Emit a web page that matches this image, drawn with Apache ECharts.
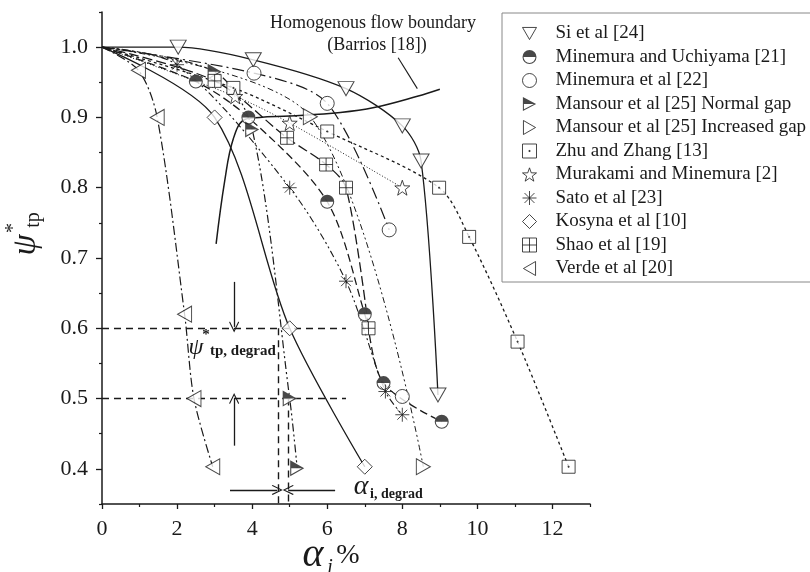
<!DOCTYPE html>
<html><head><meta charset="utf-8">
<script src="https://cdn.jsdelivr.net/npm/echarts@6/dist/echarts.min.js"></script>
<style>html,body{margin:0;padding:0;background:#fff}#c{width:810px;height:572px}</style>
</head><body><div id="c"></div>
<script>
// ---- tick labels ----
const xMajorTicks = [0, 2, 4, 6, 8, 10, 12];
const xMinorTicks = [1, 3, 5, 7, 9, 11, 13];
const yMajorTicks = [0.4, 0.5, 0.6, 0.7, 0.8, 0.9, 1.0];
const yMinorTicks = [0.35, 0.45, 0.55, 0.65, 0.75, 0.85, 0.95, 1.05];

// ---- series (alpha_i %, psi*_tp) ----
const seriesNames = ['Si et al [24]', 'Minemura and Uchiyama [21]', 'Minemura et al [22]',
  'Mansour et al [25] Normal gap', 'Mansour et al [25] Increased gap', 'Zhu and Zhang [13]',
  'Murakami and Minemura [2]', 'Sato et al [23]', 'Kosyna et al [10]', 'Shao et al [19]', 'Verde et al [20]'];
const origin = [0, 1.0];
const siPts = [[2.03, 1.0], [4.03, 0.982], [6.5, 0.941], [8.0, 0.888], [8.5, 0.838], [8.95, 0.505]];
const minUchPts = [[2.5, 0.951], [3.9, 0.9], [6.0, 0.78], [7.0, 0.62], [7.5, 0.522], [9.05, 0.467]];
const minEtAlPts = [[4.05, 0.963], [6.0, 0.92], [7.65, 0.74], [8.0, 0.503]];
const mansNormalPts = [[3.0, 0.965], [4.0, 0.883], [5.0, 0.5], [5.2, 0.401]];
const mansIncrPts = [[5.55, 0.901], [8.56, 0.403]];
const zhuPts = [[3.5, 0.942], [6.0, 0.88], [8.98, 0.8], [9.78, 0.73], [11.07, 0.581], [12.43, 0.403]];
const murakamiPts = [[3.55, 0.93], [5.0, 0.892], [8.0, 0.8]];
const satoPts = [[2.0, 0.975], [5.0, 0.8], [6.5, 0.667], [7.55, 0.51], [8.0, 0.477]];
const kosynaPts = [[3.0, 0.9], [5.0, 0.6], [7.0, 0.403]];
const shaoPts = [[3.0, 0.952], [4.93, 0.871], [5.97, 0.833], [6.5, 0.8], [7.1, 0.6]];
const verdePts = [[0.97, 0.967], [1.47, 0.9], [2.2, 0.62], [2.45, 0.5], [2.95, 0.403]];
// homogenous flow boundary (Barrios)
const boundaryPts = [[3.04, 0.72], [3.27, 0.81], [3.5, 0.87], [3.8, 0.897], [4.2, 0.9], [5.0, 0.902],
  [6.35, 0.907], [7.25, 0.914], [8.4, 0.93], [9.0, 0.94]];
// reference lines and arrows
const hRefY = [0.6, 0.5];
const hRefXEnd = 6.5;
const vRef = [[4.7, 0.6], [4.95, 0.5]];
const arrowDown = [[3.52, 0.666], [3.52, 0.602]];
const arrowUp = [[3.52, 0.433], [3.52, 0.5]];
const arrowRight = [[3.41, 0.37], [4.67, 0.37]];
const arrowLeft = [[6.21, 0.37], [4.96, 0.37]];
const pointer = [[7.89, 0.985], [8.4, 0.941]];

// ---- symbols ----
const S = {
  down: 'path://M-10,-8.66L10,-8.66L0,8.66Z',
  right: 'path://M-8.66,-10L8.66,0L-8.66,10Z',
  left: 'path://M8.66,-10L8.66,10L-8.66,0Z',
  halfCircle: 'path://M0,-10A10,10 0 1,1 0,10A10,10 0 1,1 0,-10Z M0,-8.5A8.5,8.5 0 1,0 0,8.5A8.5,8.5 0 1,0 0,-8.5Z M-10,0A10,10 0 0,1 10,0Z',
  halfRight: 'path://M-8,-9L9,0L-8,9Z M-6.7,-6.84L-6.7,6.84L6.22,0Z M-8,-9L9,0L-8,0Z',
  squareDot: 'path://M-10,-10H10V10H-10Z M-0.8,-0.8H0.8V0.8H-0.8Z',
  squarePlus: 'path://M-10,-10H10V10H-10Z M0,-10V10 M-10,0H10',
  star: 'path://M0,-10L2.35,-3.24L9.51,-3.09L3.8,1.24L5.88,8.09L0,4L-5.88,8.09L-3.8,1.24L-9.51,-3.09L-2.35,-3.24Z',
  aster: 'path://M0,-10V10M-10,0H10M-7.07,-7.07L7.07,7.07M-7.07,7.07L7.07,-7.07'
};

const ptsList = [siPts, minUchPts, minEtAlPts, mansNormalPts, mansIncrPts, zhuPts, murakamiPts, satoPts, kosynaPts, shaoPts, verdePts];
const linePts = [siPts, minUchPts, minEtAlPts.slice(0, 3), mansNormalPts, mansIncrPts, zhuPts, murakamiPts, satoPts, kosynaPts, shaoPts, verdePts];
const symbols = [S.down, S.halfCircle, 'circle', S.halfRight, S.right, S.squareDot, S.star, S.aster, 'diamond', S.squarePlus, S.left];
const sizes = [[16, 14], 14, 14, [14, 16], [14, 16], 13, 15, 14, 15, 13, [14, 16]];
const half = [false, true, false, true, false, false, false, false, false, false, false];
const dashes = ['solid', [8, 4], [12, 4, 2, 4], [8, 3, 2, 3, 2, 3], [6, 3, 2, 3, 2, 3], [3, 3], [1, 2], [7, 3, 2, 3, 2, 3], 'solid', [10, 4], [9, 3, 2, 3]];
const widths = [1.3, 1.3, 1.2, 1.2, 1.0, 1.3, 1.0, 1.1, 1.3, 1.3, 1.2];

const INK = '#1a1a1a';
const FONT = '"Liberation Serif", "Times New Roman", serif';

const series = [];
// fitted curves
linePts.forEach((p, i) => {
  series.push({
    name: seriesNames[i] + ' curve', type: 'line', data: [origin].concat(p),
    smooth: 0.3, symbol: 'none', silent: true, z: 2,
    lineStyle: { color: INK, width: widths[i], type: dashes[i] }
  });
});
// boundary
series.push({
  name: 'Homogenous flow boundary', type: 'line', data: boundaryPts, smooth: 0.4, symbol: 'none', silent: true, z: 2,
  lineStyle: { color: INK, width: 1.5 }
});
// annotations
const markLines = [];
hRefY.forEach(y => markLines.push([{ coord: [0, y] }, { coord: [hRefXEnd, y] }]));
vRef.forEach(v => markLines.push([{ coord: v }, { coord: [v[0], 0.35] }]));
series.push({
  name: 'refs', type: 'line', data: [], silent: true, z: 1,
  markLine: {
    silent: true, symbol: ['none', 'none'], label: { show: false },
    lineStyle: { color: INK, type: [7, 5], width: 1.4 },
    data: markLines
  }
});
const openArrow = 'path://M0,0L6,13L5,14L0,3L-5,14L-6,13Z';
series.push({
  name: 'arrows', type: 'line', data: [], silent: true, z: 4,
  markLine: {
    silent: true, symbol: ['none', openArrow], symbolSize: [10, 11], label: { show: false },
    lineStyle: { color: INK, type: 'solid', width: 1.3 },
    data: [arrowDown, arrowUp, arrowRight, arrowLeft].map(a => [{ coord: a[0] }, { coord: a[1] }])
  }
});
series.push({
  name: 'pointer', type: 'line', data: [], silent: true, z: 4,
  markLine: {
    silent: true, symbol: ['none', 'none'], label: { show: false },
    lineStyle: { color: INK, type: 'solid', width: 1.1 },
    data: [[{ coord: pointer[0] }, { coord: pointer[1] }]]
  }
});
// white underlays for half-filled markers
ptsList.forEach((p, i) => {
  if (!half[i]) return;
  series.push({
    name: seriesNames[i] + ' bg', type: 'scatter', data: p, silent: true, z: 5,
    symbol: i === 1 ? 'circle' : 'path://M-8,-9L9,0L-8,9Z', symbolSize: sizes[i],
    itemStyle: { color: '#fff', borderWidth: 0 }
  });
});
// markers
ptsList.forEach((p, i) => {
  series.push({
    name: seriesNames[i], type: 'scatter', data: p, z: 6,
    symbol: symbols[i], symbolSize: sizes[i],
    itemStyle: half[i] ? { color: INK, borderWidth: 0 } : { color: '#fff', borderColor: INK, borderWidth: 1 }
  });
});

const chart = echarts.init(document.getElementById('c'), null, { renderer: 'canvas' });
chart.setOption({
  animation: false,
  backgroundColor: '#fff',
  grid: { left: 102, top: 12, width: 488, height: 492 },
  xAxis: [{
    type: 'value', min: 0, max: 13, interval: 1,
    axisLine: { onZero: false, lineStyle: { color: INK, width: 1.5 } },
    axisTick: { show: true, length: 5, customValues: xMajorTicks, lineStyle: { color: INK, width: 1.3 } },
    axisLabel: { customValues: xMajorTicks, fontFamily: FONT, fontSize: 22, color: INK, margin: 14 },
    splitLine: { show: false }
  }, {
    type: 'value', min: 0, max: 13, interval: 1, position: 'bottom',
    axisLine: { show: false },
    axisTick: { show: true, length: 3, customValues: xMinorTicks, lineStyle: { color: INK, width: 1.2 } },
    axisLabel: { show: false }, splitLine: { show: false }
  }],
  yAxis: [{
    type: 'value', min: 0.35, max: 1.05, interval: 0.05,
    axisLine: { show: true, onZero: false, lineStyle: { color: INK, width: 1.5 } },
    axisTick: { show: true, length: 6, customValues: yMajorTicks, lineStyle: { color: INK, width: 1.3 } },
    axisLabel: { customValues: yMajorTicks, formatter: v => v.toFixed(1), fontFamily: FONT, fontSize: 22, color: INK, margin: 14 },
    splitLine: { show: false }
  }, {
    type: 'value', min: 0.35, max: 1.05, interval: 0.05, position: 'left',
    axisLine: { show: false },
    axisTick: { show: true, length: 3, customValues: yMinorTicks, lineStyle: { color: INK, width: 1.2 } },
    axisLabel: { show: false }, splitLine: { show: false }
  }],
  legend: {
    orient: 'vertical', left: 502, top: 13,
    padding: [11, 20, 4, 20],
    itemWidth: 14, itemHeight: 14, itemGap: 4.5,
    borderColor: '#888', borderWidth: 1,
    textStyle: { fontFamily: FONT, fontSize: 19, color: INK, padding: [0, 0, 0, 14] },
    itemStyle: { borderWidth: 1 },
    data: seriesNames.map((n, i) => half[i] ? { name: n, itemStyle: { borderWidth: 0 } } : { name: n })
  },
  series: series,
  graphic: [
    { type: 'text', x: 373, y: 23, style: { text: 'Homogenous flow boundary', font: '18px ' + FONT, fill: INK, align: 'center', verticalAlign: 'middle' } },
    { type: 'text', x: 377, y: 45, style: { text: '(Barrios [18])', font: '18px ' + FONT, fill: INK, align: 'center', verticalAlign: 'middle' } },
    // psi*_tp,degrad
    { type: 'text', x: 196, y: 348, style: { text: 'ψ', font: 'italic 24px ' + FONT, fill: INK, align: 'center', verticalAlign: 'middle' } },
    { type: 'text', x: 206, y: 335, style: { text: '*', font: 'bold 15px ' + FONT, fill: INK, align: 'center', verticalAlign: 'middle' } },
    { type: 'text', x: 210, y: 351, style: { text: 'tp, degrad', font: 'bold 15px ' + FONT, fill: INK, align: 'left', verticalAlign: 'middle' } },
    // alpha_i,degrad
    { type: 'text', x: 361, y: 487, style: { text: 'α', font: 'italic 28px ' + FONT, fill: INK, align: 'center', verticalAlign: 'middle' } },
    { type: 'text', x: 370, y: 494, style: { text: 'i, degrad', font: 'bold 14px ' + FONT, fill: INK, align: 'left', verticalAlign: 'middle' } },
    // x axis title
    { type: 'text', x: 313, y: 555, style: { text: 'α', font: 'italic 40px ' + FONT, fill: INK, align: 'center', verticalAlign: 'middle' } },
    { type: 'text', x: 330, y: 568, style: { text: 'i', font: 'italic 20px ' + FONT, fill: INK, align: 'center', verticalAlign: 'middle' } },
    { type: 'text', x: 348, y: 556, style: { text: '%', font: '28px ' + FONT, fill: INK, align: 'center', verticalAlign: 'middle' } },
    // y axis title (rotated)
    { type: 'text', x: 26, y: 245, rotation: Math.PI / 2, style: { text: 'ψ', font: 'italic 34px ' + FONT, fill: INK, align: 'center', verticalAlign: 'middle' } },
    { type: 'text', x: 14, y: 228, rotation: Math.PI / 2, style: { text: '*', font: '20px ' + FONT, fill: INK, align: 'center', verticalAlign: 'middle' } },
    { type: 'text', x: 34, y: 220, rotation: Math.PI / 2, style: { text: 'tp', font: '20px ' + FONT, fill: INK, align: 'center', verticalAlign: 'middle' } }
  ]
});
</script></body></html>
